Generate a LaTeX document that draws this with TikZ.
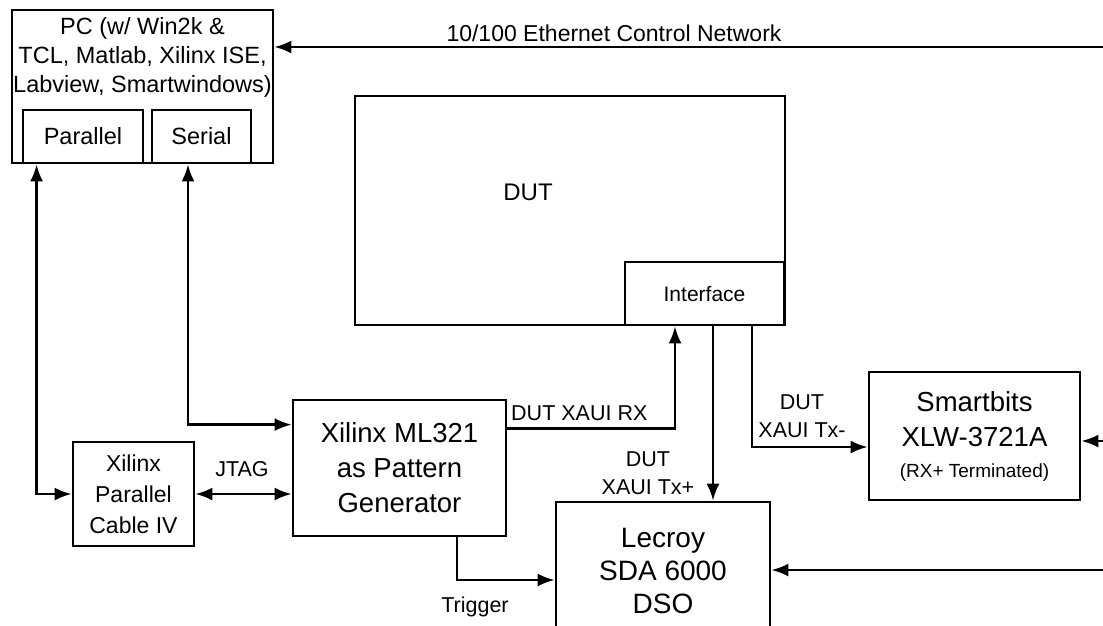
\documentclass[tikz,border=0pt]{standalone}
\usepackage{fontspec}
\setmainfont{Liberation Sans}
\usetikzlibrary{positioning,calc,arrows.meta}
\tikzset{
	box/.style ={rectangle, draw, line width=2.8pt, inner sep=0pt, align=center}, % every block of the bench
	lbl/.style ={inner sep=1pt, align=center},
	link/.style={line width=2.4pt, -{Latex[length=17pt,width=13pt]}}, % one way cable
	both/.style={line width=2.4pt, {Latex[length=17pt,width=13pt]}-{Latex[length=17pt,width=13pt]}}, % two way cable
	bigf/.style={font=\fontsize{27.5}{35}\selectfont},
	pcf/.style ={font=\fontsize{23.5}{29}\selectfont},
	smallf/.style={font=\fontsize{21.5}{28}\selectfont}
}

\begin{document}
\begin{tikzpicture}[x=1pt,y=-1pt]
            \useasboundingbox (0,0) rectangle (1103,625);
            \clip (0,0) rectangle (1103,625);
            % blocks
            \node[box,minimum width=261pt,minimum height=153pt] (pc) at (142.5,86.5) {};
            \node[lbl,pcf] (pctext) [below=8pt of pc.north] {PC (w/ Win2k \&\\TCL, Matlab, Xilinx ISE,\\Labview, Smartwindows)};
            \node[box,pcf,minimum width=120pt,minimum height=53pt] (par) at (83,136.5) {Parallel};
            \node[box,pcf,minimum width=99pt,minimum height=53pt] (ser) at (201.5,136.5) {Serial};
            \node[box,minimum width=430pt,minimum height=229pt] (dut) at (570,210.5) {};
            \node[lbl,font=\fontsize{24}{28}\selectfont] (dutlbl) at (528,192) {DUT};
            \node[box,font=\fontsize{21}{26}\selectfont,minimum width=159pt,minimum height=63pt] (iface) at (704.5,293.5) {Interface};
            \node[box,bigf,minimum width=213pt,minimum height=136pt] (ml) at (399.5,468) {Xilinx ML321\\as Pattern\\Generator};
            \node[box,font=\fontsize{23}{31}\selectfont,minimum width=121pt,minimum height=104pt] (cable) at (133.5,494) {Xilinx\\Parallel\\Cable IV};
            \node[box,font=\fontsize{28}{33}\selectfont,minimum width=214pt,minimum height=138pt] (dso) at (663,571) {Lecroy\\SDA 6000\\DSO};
            \node[box,bigf,minimum width=211pt,minimum height=128pt] (sb) at (974.5,436) {Smartbits\\XLW-3721A\\[-4pt]{\fontsize{19}{22}\selectfont (RX+ Terminated)}};
            % cable ends
            \coordinate (eth) at (1103,47);
            \coordinate (sbin) at (1103,441);
            \coordinate (dsoin) at (1103,570);
            \coordinate (txp) at ([xshift=8.5pt]iface.south);
            \coordinate (txm) at ([xshift=47.5pt]iface.south);
            \coordinate (trg) at ([xshift=57.5pt]ml.south);
            % cables
            \draw[link] (eth) -- (eth -| pc.east);
            \draw[both] ([xshift=15pt]par.south west) |- (cable);
            \draw[both] ([xshift=-13.5pt]ser.south) |- ([yshift=-26pt]ml.north west);
            \draw[both] (cable) -- (cable -| ml.west);
            \draw[link] ([yshift=-30pt]ml.north east) -| ([xshift=-29.5pt]iface.south);
            \draw[link] (txp) -- (txp |- dso.north);
            \draw[link] (txm) |- ([yshift=-11pt]sb.west);
            \draw[link] (trg) |- ([yshift=-9pt]dso.west);
            \draw[link] (sbin) -- (sbin -| sb.east);
            \draw[link] (dsoin) -- (dsoin -| dso.east);
            % cable labels
            \node[lbl,font=\fontsize{23}{28}\selectfont] (ethlbl) at (614,33) {10/100 Ethernet Control Network};
            \node[lbl,smallf,anchor=west] (rxlbl) at (510,413) {DUT XAUI RX};
            \node[lbl,smallf] (txplbl) at (648,473) {DUT\\XAUI Tx+};
            \node[lbl,smallf] (txmlbl) at (802,416) {DUT\\XAUI Tx-};
            \node[lbl,smallf] (jtag) at (242,469) {JTAG};
            \node[lbl,smallf] (trig) at (475,607) {Trigger};
        \end{tikzpicture}
\end{document}
